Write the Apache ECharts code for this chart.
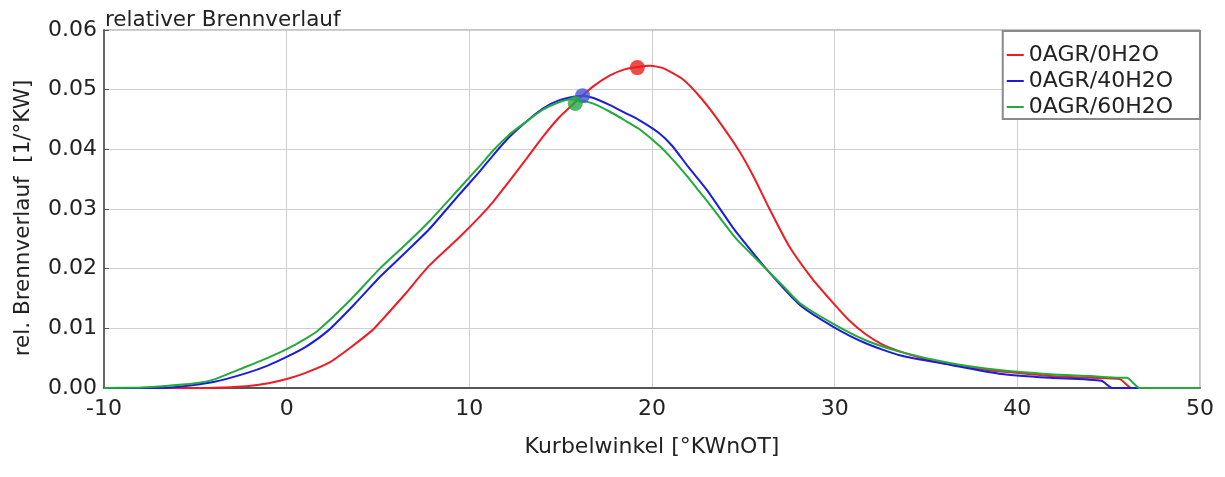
<!DOCTYPE html>
<html>
<head>
<meta charset="utf-8">
<script src="https://cdn.jsdelivr.net/npm/echarts@6/dist/echarts.min.js"></script>
<style>
  html, body { margin: 0; padding: 0; background: #fff; }
  #chart { width: 1225px; height: 477px; }
</style>
</head>
<body>
<div id="chart"></div>
<script>
// Kurbelwinkel [°KWnOT] und rel. Brennverlauf [1/°KW] je Variante
const names = ['0AGR/0H2O', '0AGR/40H2O', '0AGR/60H2O'];

const redX = [-10, -5, -3.5, -2.2, -1, 0, 1, 2.35, 3.5, 4.7, 5.1, 6.5, 7.8, 9.5, 10.6, 11.3, 12.2, 13.1, 14.0, 14.9, 15.9, 16.8, 17.7, 18.5, 19.2, 19.9, 20.6, 21.7, 22.6, 23.5, 24.8, 25.6, 26.4, 27.5, 28.8, 29.9, 30.8, 31.7, 32.6, 33.6, 35.4, 38.1, 39, 41.8, 44, 45.6, 46.25, 50];
const redY = [0, 0, 0.0001, 0.0003, 0.0008, 0.0015, 0.0025, 0.0043, 0.0068, 0.0097, 0.0110, 0.0158, 0.0205, 0.0254, 0.0288, 0.0312, 0.0347, 0.0383, 0.0420, 0.0453, 0.0482, 0.0506, 0.0524, 0.0534, 0.0538, 0.0540, 0.0536, 0.0517, 0.0489, 0.0454, 0.0396, 0.0352, 0.0302, 0.0238, 0.0182, 0.0143, 0.0113, 0.0090, 0.0073, 0.0061, 0.0045, 0.0031, 0.0028, 0.0020, 0.0017, 0.0015, 0, 0];

const blueX = [-10, -7, -5.9, -4, -2.2, -1, 0, 1, 2.3, 3.7, 5.1, 6.5, 7.8, 9.5, 10.6, 11.3, 12.2, 13.1, 14.0, 14.9, 16.1, 16.8, 17.7, 18.6, 19.3, 20.4, 21.1, 22.0, 23.0, 24.4, 24.8, 26.3, 28.1, 29.9, 31.7, 33.55, 36.3, 39, 41.8, 44.6, 45.2, 50];
const blueY = [0, 0, 0.0002, 0.0010, 0.0025, 0.0038, 0.0052, 0.0068, 0.0097, 0.0140, 0.0186, 0.0227, 0.0266, 0.0326, 0.0364, 0.0390, 0.0421, 0.0446, 0.0468, 0.0482, 0.0490, 0.0486, 0.0474, 0.0460, 0.0449, 0.0427, 0.0406, 0.0370, 0.0332, 0.0270, 0.0254, 0.0198, 0.0139, 0.0103, 0.0075, 0.0055, 0.0039, 0.0024, 0.0017, 0.0012, 0, 0];

const greenX = [-10, -8, -6.8, -5, -4, -2.2, -1, 0, 1, 1.7, 3.5, 5.1, 6.5, 7.8, 9.5, 10.6, 11.3, 12.2, 13.1, 14.0, 14.9, 15.6, 16.75, 17.7, 18.6, 19.3, 20.4, 21.1, 22.0, 22.6, 23.0, 24.4, 24.8, 26.3, 27.2, 28.1, 29.9, 31.7, 33.55, 36.3, 39, 41.8, 44, 45.6, 46.0, 46.7, 50];
const greenY = [0, 0.0001, 0.0003, 0.0008, 0.0014, 0.0036, 0.0051, 0.0065, 0.0082, 0.0096, 0.0148, 0.0200, 0.0240, 0.0279, 0.0336, 0.0373, 0.0398, 0.0425, 0.0446, 0.0466, 0.0479, 0.0484, 0.0477, 0.0463, 0.0447, 0.0434, 0.0406, 0.0384, 0.0352, 0.0329, 0.0314, 0.0258, 0.0244, 0.0198, 0.0170, 0.0142, 0.0108, 0.0080, 0.0061, 0.0042, 0.0030, 0.0023, 0.0020, 0.0017, 0.0017, 0, 0];

// markierte Punkte (Maxima)
const peakX = [19.2, 16.2, 15.8];
const peakY = [0.0537, 0.0490, 0.0477];

const colors = ['#ee1c24', '#1c1cdd', '#22aa3a'];
const dotColors = ['#ee1a1a', '#4455d8', '#22aa44'];
const FONT = 'DejaVu Sans';

const zip = (xs, ys) => xs.map((x, i) => [x, ys[i]]);
const lines = [zip(redX, redY), zip(blueX, blueY), zip(greenX, greenY)];

const chart = echarts.init(document.getElementById('chart'), null, { renderer: 'canvas' });

const series = [];
lines.forEach((d, i) => {
  series.push({
    name: names[i],
    type: 'line',
    data: d,
    symbol: 'none',
    smooth: 0.2,
    lineStyle: { width: 2, color: colors[i] },
    itemStyle: { color: colors[i] },
    z: 2 + i
  });
});
peakX.forEach((x, i) => {
  series.push({
    name: 'peak' + i,
    type: 'scatter',
    data: [[x, peakY[i]]],
    symbol: 'circle',
    symbolSize: 15,
    itemStyle: { color: dotColors[i] },
    z: 10
  });
});

chart.setOption({
  animation: false,
  backgroundColor: '#fff',
  textStyle: { fontFamily: FONT, color: '#222' },
  title: {
    text: 'relativer Brennverlauf',
    left: 100,
    top: 4,
    textStyle: { fontFamily: FONT, fontSize: 21.5, fontWeight: 'normal', color: '#222' }
  },
  legend: {
    data: names,
    orient: 'vertical',
    right: 25,
    top: 31,
    backgroundColor: '#fff',
    borderColor: '#8a8a8a',
    borderWidth: 2,
    padding: [13, 27, 1, 3],
    itemGap: 4,
    itemWidth: 17,
    itemHeight: 2,
    textStyle: { fontFamily: FONT, fontSize: 22, color: '#222', lineHeight: 22 }
  },
  grid: {
    left: 104,
    right: 25,
    top: 30,
    bottom: 89,
    show: true,
    borderColor: '#8a8a8a',
    borderWidth: 1
  },
  xAxis: {
    type: 'value',
    min: -10,
    max: 50,
    interval: 10,
    name: 'Kurbelwinkel [°KWnOT]',
    nameLocation: 'middle',
    nameGap: 48,
    nameTextStyle: { fontFamily: FONT, fontSize: 22, color: '#222' },
    axisLine: { show: true, onZero: false, lineStyle: { color: '#555', width: 2 } },
    axisTick: { show: false },
    axisLabel: { fontFamily: FONT, fontSize: 22, color: '#222', margin: 10 },
    splitLine: { show: true, lineStyle: { color: '#cfcfcf', width: 1 } }
  },
  yAxis: {
    type: 'value',
    min: 0,
    max: 0.06,
    interval: 0.01,
    name: 'rel. Brennverlauf  [1/°KW]',
    nameLocation: 'middle',
    nameGap: 70,
    nameRotate: 90,
    nameTextStyle: { fontFamily: FONT, fontSize: 21.5, color: '#222', padding: [0, 18, 0, 0] },
    axisLine: { show: true, onZero: false, lineStyle: { color: '#666', width: 2 } },
    axisTick: { show: true, inside: true, length: 5, lineStyle: { color: '#555' } },
    axisLabel: {
      fontFamily: FONT, fontSize: 22, color: '#222', margin: 7,
      formatter: v => v.toFixed(2)
    },
    splitLine: { show: true, lineStyle: { color: '#cfcfcf', width: 1 } }
  },
  series: series
});
</script>
</body>
</html>
